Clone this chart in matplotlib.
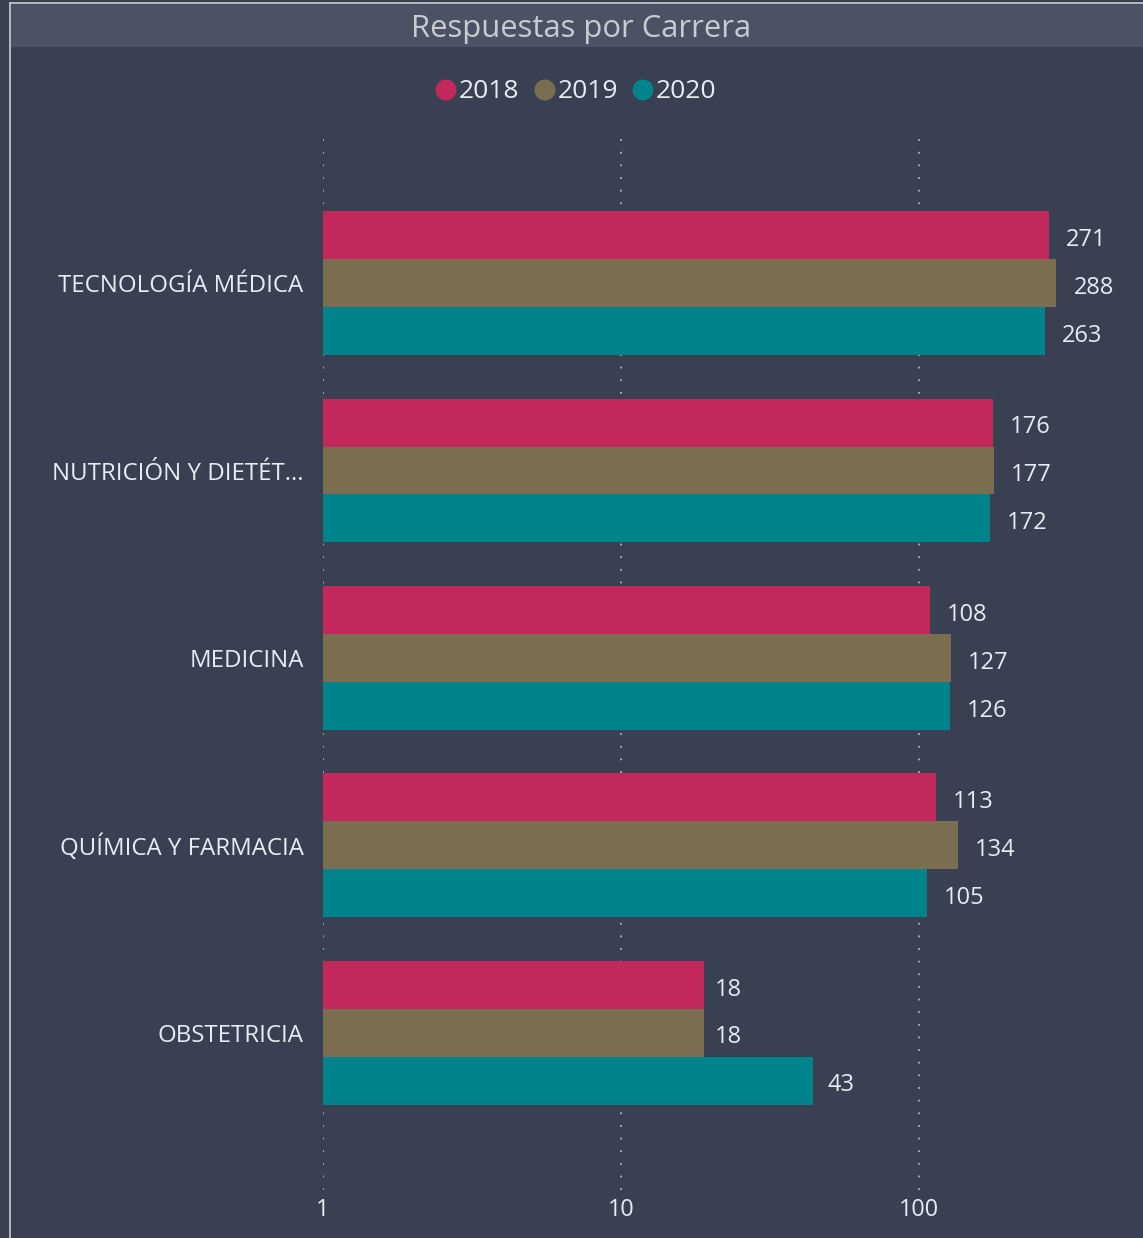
import matplotlib
matplotlib.use("Agg")
import matplotlib.pyplot as plt
import matplotlib.transforms as mtrans
import numpy as np
from matplotlib.patches import Rectangle

categories = ["TECNOLOGÍA MÉDICA", "NUTRICIÓN Y DIETÉT...", "MEDICINA", "QUÍMICA Y FARMACIA", "OBSTETRICIA"]
years = ["2018", "2019", "2020"]
v2018 = [271, 176, 108, 113, 18]
v2019 = [288, 177, 127, 134, 18]
v2020 = [263, 172, 126, 105, 43]
xticks = [1, 10, 100]
xticklabels = ["1", "10", "100"]

colors = ["#c2285c", "#7b6d50", "#00838a"]
bg = "#394051"
titlebg = "#4b5263"
txt = "#e8ecf2"
font = "Open Sans"

W, H = 1143, 1238
fig = plt.figure(figsize=(W/100, H/100), dpi=100)
fig.patch.set_facecolor(bg)

# title bar
fig.add_artist(Rectangle((10/W, 1-47/H), 1-10/W, 44/H, transform=fig.transFigure,
                         facecolor=titlebg, edgecolor="none"))
fig.add_artist(plt.Line2D([10/W, 10/W], [0, 1-3/H], transform=fig.transFigure, color="#c8ccd4", lw=1.2))
fig.add_artist(plt.Line2D([10/W, 1], [1-3/H, 1-3/H], transform=fig.transFigure, color="#c8ccd4", lw=1.2))
fig.text(581/W, 1-29/H, "Respuestas por Carrera", ha="center", va="center", fontsize=22.3,
         color="#c9cbd0", family=font)

ax_l, ax_r, ax_t, ax_b = 323, 1130, 137, 1190
ax = fig.add_axes([ax_l/W, 1-ax_b/H, (ax_r-ax_l)/W, (ax_b-ax_t)/H])
ax.set_facecolor(bg)
ax.set_xscale("log")
ax.set_xlim(1, 10**((ax_r-ax_l)/298))
ax.set_ylim(4.84, -0.78)

y = np.arange(len(categories))
h = 0.256
series = [v2018, v2019, v2020]
for i, (vals, c) in enumerate(zip(series, colors)):
    pos = y + (i-1)*h
    ax.barh(pos, vals, height=h, left=1, color=c, zorder=3)
    for p, v in zip(pos, vals):
        ax.annotate(str(v), (v, p), xytext=(13, -3.5), textcoords="offset points",
                    va="center", ha="left", fontsize=17, color=txt, family=font)

for xv in xticks:
    ax.axvline(xv, color="#b0b4bc", lw=1.3, ls=(0, (1, 6)), zorder=1)

ax.set_yticks(y)
ax.set_yticklabels(categories, fontsize=17.3, color=txt, family=font)
shift = mtrans.ScaledTranslation(0, -2/100, fig.dpi_scale_trans)
for lab in ax.get_yticklabels():
    lab.set_transform(lab.get_transform() + shift)
ax.set_xticks(xticks)
ax.set_xticklabels(xticklabels, fontsize=16.8, color=txt, family=font)
ax.xaxis.set_minor_locator(matplotlib.ticker.NullLocator())
ax.tick_params(axis="both", length=0)
ax.tick_params(axis="y", pad=14)
ax.tick_params(axis="x", pad=6)
for s in ax.spines.values():
    s.set_visible(False)

# legend
lx = [446, 545, 643]
for xx, yr, c in zip(lx, years, colors):
    fig.add_artist(matplotlib.patches.Ellipse((xx/W, 1-90/H), 21/W, 21/H, transform=fig.transFigure,
                                              facecolor=c, edgecolor="none"))
    fig.text((xx+13)/W, 1-92/H, yr, ha="left", va="center", fontsize=19, color=txt, family=font)

fig.savefig("out.png", dpi=100, facecolor=bg)
